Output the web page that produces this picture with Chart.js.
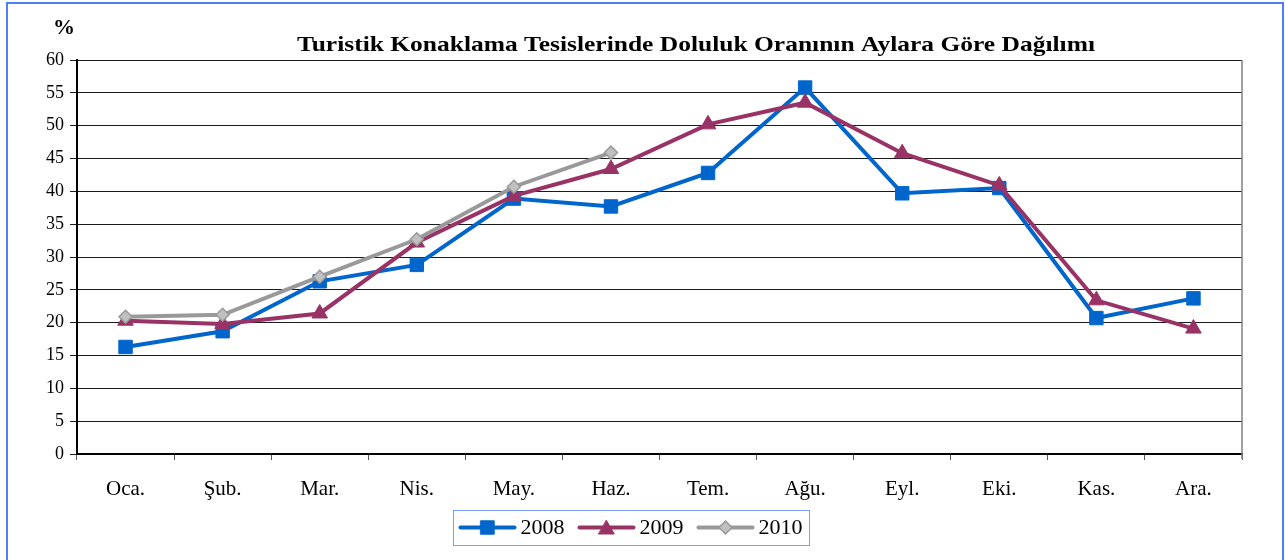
<!DOCTYPE html>
<html>
<head>
<meta charset="utf-8">
<script src="https://cdn.jsdelivr.net/npm/chart.js@4/dist/chart.umd.min.js"></script>
<style>
  html, body { margin: 0; padding: 0; background: #ffffff; }
  canvas { display: block; }
</style>
</head>
<body>
<canvas id="c" width="1285" height="560"></canvas>
<script>
const months = ['Oca.', 'Şub.', 'Mar.', 'Nis.', 'May.', 'Haz.', 'Tem.', 'Ağu.', 'Eyl.', 'Eki.', 'Kas.', 'Ara.'];
const values2008 = [16.3, 18.7, 26.3, 28.8, 38.9, 37.7, 42.8, 55.8, 39.7, 40.5, 20.7, 23.7];
const values2009 = [20.3, 19.8, 21.4, 32.2, 39.3, 43.4, 50.2, 53.5, 45.8, 40.9, 23.4, 19.1];
const values2010 = [20.9, 21.2, 27.0, 32.7, 40.7, 45.9];
const seriesNames = ['2008', '2009', '2010'];
const yTicks = { min: 0, max: 60, step: 5 };
const titleText = 'Turistik Konaklama Tesislerinde Doluluk Oranının Aylara Göre Dağılımı';
const unitText = '%';

const SERIF = "'Liberation Serif', 'DejaVu Serif', serif";

function drawStretchedText(ctx, text, cx, y, targetWidth) {
  const w = ctx.measureText(text).width;
  const sx = targetWidth / w;
  ctx.save();
  ctx.translate(cx, y);
  ctx.scale(sx, 1);
  ctx.textAlign = 'center';
  ctx.fillText(text, 0, 0);
  ctx.restore();
}

const decorPlugin = {
  id: 'decor',
  beforeDraw(chart) {
    const ctx = chart.ctx;
    ctx.save();
    ctx.fillStyle = '#ffffff';
    ctx.fillRect(0, 0, chart.width, chart.height);
    ctx.restore();
  },
  afterDraw(chart) {
    const ctx = chart.ctx;
    const ca = chart.chartArea;
    const ds = chart.data.datasets;
    ctx.save();
    // right border of plot area
    ctx.strokeStyle = '#808080';
    ctx.lineWidth = 1.5;
    ctx.beginPath();
    ctx.moveTo(ca.right, ca.top);
    ctx.lineTo(ca.right, ca.bottom + 5);
    ctx.stroke();

    // title
    ctx.fillStyle = '#000';
    ctx.font = "bold 22px " + SERIF;
    ctx.textBaseline = 'alphabetic';
    drawStretchedText(ctx, titleText, 696, 51, 798);
    // unit
    ctx.font = "bold 22px " + SERIF;
    ctx.textAlign = 'center';
    ctx.fillText(unitText, 64, 34);

    // outer border
    ctx.strokeStyle = '#4f7ff7';
    ctx.lineWidth = 2;
    ctx.strokeRect(7, 3, 1276, 600);

    // legend
    ctx.font = "22px " + SERIF;
    const lineLen = 58, gapAfterLine = 4, gapAfterText = 13, pad = 6;
    const widths = ds.map(d => ctx.measureText(d.label).width);
    let total = pad * 2;
    ds.forEach((d, i) => { total += lineLen + gapAfterLine + widths[i] + (i < ds.length - 1 ? gapAfterText : 0); });
    const boxX = 630.5 - total / 2, boxY = 510, boxH = 35;
    ctx.strokeStyle = '#7d9cf3';
    ctx.lineWidth = 1;
    ctx.strokeRect(Math.round(boxX) + 0.5, boxY + 0.5, Math.round(total), boxH);
    let x = boxX + pad;
    const cy = boxY + boxH / 2;
    ds.forEach((d, i) => {
      ctx.strokeStyle = d.borderColor;
      ctx.lineWidth = d.borderWidth;
      ctx.lineCap = 'round';
      ctx.beginPath();
      ctx.moveTo(x + 2, cy);
      ctx.lineTo(x + lineLen - 2, cy);
      ctx.stroke();
      ctx.save();
      ctx.fillStyle = d.pointBackgroundColor;
      ctx.strokeStyle = d.pointBorderColor;
      ctx.lineWidth = d.pointBorderWidth;
      Chart.helpers.drawPoint(ctx, {
        pointStyle: d.pointStyle,
        rotation: 0,
        radius: d.pointRadius,
        borderWidth: d.pointBorderWidth
      }, x + lineLen / 2, cy + (d.pointStyle === 'triangle' ? 2 : 0));
      ctx.restore();
      x += lineLen + gapAfterLine;
      ctx.fillStyle = '#000';
      ctx.textAlign = 'left';
      ctx.textBaseline = 'middle';
      ctx.fillText(d.label, x, cy + 1);
      x += widths[i] + gapAfterText;
    });
    ctx.restore();
  }
};

const chart = new Chart(document.getElementById('c'), {
  type: 'line',
  data: {
    labels: months,
    datasets: [
      {
        label: seriesNames[0], data: values2008, order: 3,
        borderColor: '#0066CC', borderWidth: 4, tension: 0,
        pointStyle: 'rect', pointRadius: 9.5,
        pointBackgroundColor: '#0066CC', pointBorderColor: '#0066CC', pointBorderWidth: 1
      },
      {
        label: seriesNames[1], data: values2009, order: 2,
        borderColor: '#993366', borderWidth: 4, tension: 0,
        pointStyle: 'triangle', pointRadius: 9,
        pointBackgroundColor: '#993366', pointBorderColor: '#993366', pointBorderWidth: 1
      },
      {
        label: seriesNames[2], data: values2010, order: 1,
        borderColor: '#999999', borderWidth: 4, tension: 0,
        pointStyle: 'rectRot', pointRadius: 6.5,
        pointBackgroundColor: '#C0C0C0', pointBorderColor: '#999999', pointBorderWidth: 1.5
      }
    ]
  },
  options: {
    responsive: false,
    animation: false,
    devicePixelRatio: 1,
    layout: { padding: { left: 0, right: 43, top: 60, bottom: 0 } },
    plugins: {
      legend: { display: false },
      title: { display: false },
      tooltip: { enabled: false }
    },
    scales: {
      x: {
        type: 'category',
        offset: true,
        grid: { offset: true, drawOnChartArea: false, drawTicks: true, tickLength: 6, color: '#555555', lineWidth: 1 },
        border: { display: true, color: '#000000', width: 2 },
        ticks: { color: '#000000', font: { family: SERIF, size: 21 }, padding: 17, maxRotation: 0, autoSkip: false },
        afterFit(scale) { scale.height = 106; }
      },
      y: {
        min: yTicks.min, max: yTicks.max,
        grid: { color: '#1a1a1a', lineWidth: 1, tickLength: 7, drawTicks: true },
        border: { display: true, color: '#000000', width: 2 },
        ticks: { stepSize: yTicks.step, color: '#000000', font: { family: SERIF, size: 18 }, padding: 6 },
        afterFit(scale) { scale.width = 77; }
      }
    }
  },
  plugins: [decorPlugin]
});
</script>
</body>
</html>
